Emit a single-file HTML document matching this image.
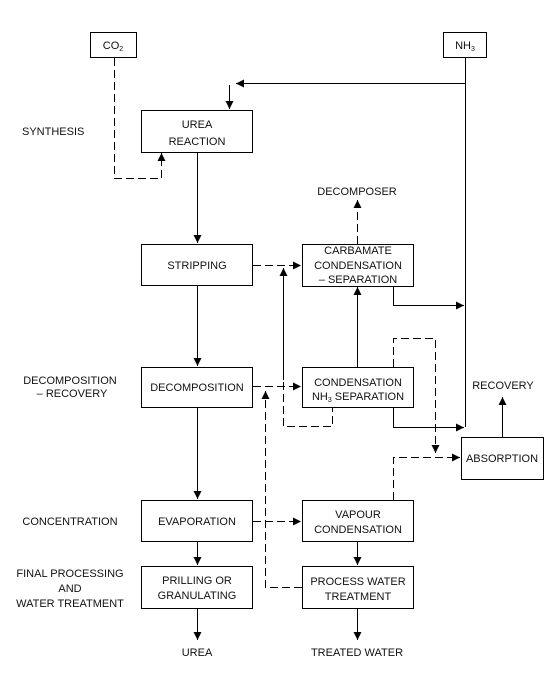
<!DOCTYPE html>
<html><head><meta charset="utf-8"><style>
html,body{margin:0;padding:0;background:#fff}
svg{display:block}
text{font-family:"Liberation Sans",Arial,sans-serif;font-size:11px;fill:#111}
</style></head><body>
<svg width="550" height="693" viewBox="0 0 550 693" xmlns="http://www.w3.org/2000/svg">
<defs>
<marker id="a" viewBox="0 0 10 10" refX="10" refY="5" markerWidth="10" markerHeight="8" markerUnits="userSpaceOnUse" orient="auto"><path d="M0,0 L10,5 L0,10 z" fill="#000"/></marker>
</defs>
<g fill="#fff" stroke="#000" stroke-width="1">
<rect x="90.5" y="32.5" width="46" height="25"/>
<rect x="443.5" y="32.5" width="43" height="25"/>
<rect x="141.5" y="110.5" width="111" height="42"/>
<rect x="141.5" y="244.5" width="111" height="41"/>
<rect x="302.5" y="244.5" width="111" height="42"/>
<rect x="141.5" y="367.5" width="111" height="40"/>
<rect x="302.5" y="367.5" width="111" height="40"/>
<rect x="461.5" y="437.5" width="82" height="42"/>
<rect x="141.5" y="500.5" width="111" height="41"/>
<rect x="302.5" y="500.5" width="111" height="41"/>
<rect x="141.5" y="566.5" width="111" height="42"/>
<rect x="302.5" y="566.5" width="111" height="42"/>
</g>
<g fill="none" stroke="#000" stroke-width="1">
<!-- solid -->
<path d="M465.5,57 V427"/>
<path d="M465.5,83.5 H236" marker-end="url(#a)"/>
<path d="M229.5,85 V109" marker-end="url(#a)"/>
<path d="M197.5,152 V243" marker-end="url(#a)"/>
<path d="M197.5,286 V366" marker-end="url(#a)"/>
<path d="M197.5,408 V499" marker-end="url(#a)"/>
<path d="M197.5,542 V565" marker-end="url(#a)"/>
<path d="M197.5,609 V640" marker-end="url(#a)"/>
<path d="M393.5,287 V305.5 H464" marker-end="url(#a)"/>
<path d="M393.5,408 V427.5 H464" marker-end="url(#a)"/>
<path d="M357.5,367 V287" marker-end="url(#a)"/>
<path d="M283.5,380 V268" marker-end="url(#a)"/>
<path d="M357.5,542 V565" marker-end="url(#a)"/>
<path d="M357.5,609 V640" marker-end="url(#a)"/>
<path d="M502.5,437 V397" marker-end="url(#a)"/>
</g>
<g fill="none" stroke="#000" stroke-width="1" stroke-dasharray="8,4">
<path d="M114.5,58 V178.5 H161.5 V153" marker-end="url(#a)"/>
<path d="M253,265.5 H301" marker-end="url(#a)"/>
<path d="M357.5,244 V200" marker-end="url(#a)"/>
<path d="M253,386.5 H301" marker-end="url(#a)"/>
<path d="M283.5,382 V426.5 H332.5 V408"/>
<path d="M393.5,367 V338.5 H435.5 V453" marker-end="url(#a)"/>
<path d="M393.5,500 V457.5 H460" marker-end="url(#a)"/>
<path d="M253,521.5 H301" marker-end="url(#a)"/>
<path d="M302,587.5 H265.5 V391" marker-end="url(#a)"/>
</g>
<g text-anchor="middle">
<text x="113" y="49">CO<tspan font-size="7" dy="2">2</tspan></text>
<text x="465" y="49">NH<tspan font-size="7" dy="2">3</tspan></text>
<text x="197" y="128">UREA</text>
<text x="197" y="145">REACTION</text>
<text x="197" y="269">STRIPPING</text>
<text x="358" y="254">CARBAMATE</text>
<text x="358" y="269">CONDENSATION</text>
<text x="358" y="283">– SEPARATION</text>
<text x="357" y="195">DECOMPOSER</text>
<text x="197" y="391">DECOMPOSITION</text>
<text x="358" y="386">CONDENSATION</text>
<text x="358" y="400">NH<tspan font-size="7" dy="2">3</tspan><tspan dy="-2"> SEPARATION</tspan></text>
<text x="503" y="389">RECOVERY</text>
<text x="502" y="462">ABSORPTION</text>
<text x="197" y="525">EVAPORATION</text>
<text x="358" y="518">VAPOUR</text>
<text x="358" y="533">CONDENSATION</text>
<text x="197" y="584">PRILLING OR</text>
<text x="197" y="599">GRANULATING</text>
<text x="358" y="585">PROCESS WATER</text>
<text x="358" y="600">TREATMENT</text>
<text x="197" y="656">UREA</text>
<text x="357" y="656">TREATED WATER</text>
<text x="70" y="384">DECOMPOSITION</text>
<text x="72" y="397">– RECOVERY</text>
<text x="70" y="525">CONCENTRATION</text>
<text x="70" y="577">FINAL PROCESSING</text>
<text x="70" y="592">AND</text>
<text x="70" y="607">WATER TREATMENT</text>
</g>
<text x="22" y="135">SYNTHESIS</text>
</svg>
</body></html>
